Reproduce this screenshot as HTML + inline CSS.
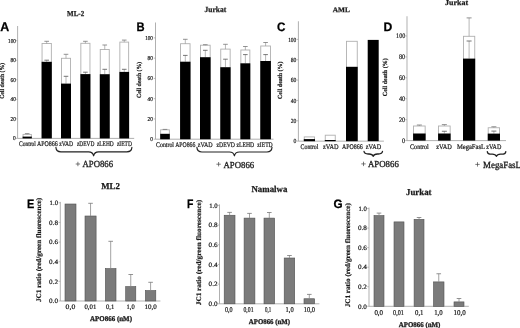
<!DOCTYPE html>
<html><head><meta charset="utf-8"><style>
html,body{margin:0;padding:0;background:#fff;width:520px;height:328px;overflow:hidden}
svg{display:block;will-change:transform;text-rendering:geometricPrecision}
</style></head><body>
<svg width="520" height="328" viewBox="0 0 520 328">
<rect width="520" height="328" fill="#fff"/>
<line x1="17.60" y1="26.00" x2="17.60" y2="138.40" stroke="#a2a2a2" stroke-width="0.85"/>
<line x1="15.80" y1="138.40" x2="17.60" y2="138.40" stroke="#a2a2a2" stroke-width="0.7"/>
<text x="13.10" y="140.40" font-family='"Liberation Serif", serif' font-size="5.9" font-weight="normal" fill="#1a1a1a" textLength="2.70" lengthAdjust="spacingAndGlyphs" stroke="#1a1a1a" stroke-width="0.2">0</text>
<line x1="15.80" y1="118.86" x2="17.60" y2="118.86" stroke="#a2a2a2" stroke-width="0.7"/>
<text x="10.50" y="120.86" font-family='"Liberation Serif", serif' font-size="5.9" font-weight="normal" fill="#1a1a1a" textLength="5.30" lengthAdjust="spacingAndGlyphs" stroke="#1a1a1a" stroke-width="0.2">20</text>
<line x1="15.80" y1="99.32" x2="17.60" y2="99.32" stroke="#a2a2a2" stroke-width="0.7"/>
<text x="10.50" y="101.32" font-family='"Liberation Serif", serif' font-size="5.9" font-weight="normal" fill="#1a1a1a" textLength="5.30" lengthAdjust="spacingAndGlyphs" stroke="#1a1a1a" stroke-width="0.2">40</text>
<line x1="15.80" y1="79.78" x2="17.60" y2="79.78" stroke="#a2a2a2" stroke-width="0.7"/>
<text x="10.50" y="81.78" font-family='"Liberation Serif", serif' font-size="5.9" font-weight="normal" fill="#1a1a1a" textLength="5.30" lengthAdjust="spacingAndGlyphs" stroke="#1a1a1a" stroke-width="0.2">60</text>
<line x1="15.80" y1="60.24" x2="17.60" y2="60.24" stroke="#a2a2a2" stroke-width="0.7"/>
<text x="10.50" y="62.24" font-family='"Liberation Serif", serif' font-size="5.9" font-weight="normal" fill="#1a1a1a" textLength="5.30" lengthAdjust="spacingAndGlyphs" stroke="#1a1a1a" stroke-width="0.2">80</text>
<line x1="15.80" y1="40.70" x2="17.60" y2="40.70" stroke="#a2a2a2" stroke-width="0.7"/>
<text x="8.10" y="42.70" font-family='"Liberation Serif", serif' font-size="5.9" font-weight="normal" fill="#1a1a1a" textLength="7.70" lengthAdjust="spacingAndGlyphs" stroke="#1a1a1a" stroke-width="0.2">100</text>
<line x1="17.60" y1="138.40" x2="134.20" y2="138.40" stroke="#a2a2a2" stroke-width="0.85"/>
<rect x="23.05" y="134.40" width="8.30" height="4.00" fill="#fff" stroke="#b0b0b0" stroke-width="0.9"/>
<line x1="27.20" y1="134.40" x2="27.20" y2="133.60" stroke="#9a9a9a" stroke-width="0.7"/>
<line x1="24.90" y1="133.60" x2="29.50" y2="133.60" stroke="#777" stroke-width="0.8"/>
<rect x="22.60" y="136.60" width="9.20" height="1.80" fill="#000" stroke="none" stroke-width="1"/>
<rect x="42.05" y="43.50" width="9.30" height="94.90" fill="#fff" stroke="#b0b0b0" stroke-width="0.9"/>
<line x1="46.70" y1="43.50" x2="46.70" y2="41.30" stroke="#9a9a9a" stroke-width="0.7"/>
<line x1="44.40" y1="41.30" x2="49.00" y2="41.30" stroke="#777" stroke-width="0.8"/>
<line x1="46.70" y1="61.80" x2="46.70" y2="60.20" stroke="#9a9a9a" stroke-width="0.7"/>
<line x1="44.40" y1="60.20" x2="49.00" y2="60.20" stroke="#555" stroke-width="0.8"/>
<rect x="41.60" y="61.80" width="10.20" height="76.60" fill="#000" stroke="none" stroke-width="1"/>
<rect x="61.45" y="58.30" width="9.10" height="80.10" fill="#fff" stroke="#b0b0b0" stroke-width="0.9"/>
<line x1="66.00" y1="58.30" x2="66.00" y2="54.30" stroke="#9a9a9a" stroke-width="0.7"/>
<line x1="63.70" y1="54.30" x2="68.30" y2="54.30" stroke="#777" stroke-width="0.8"/>
<line x1="66.00" y1="83.60" x2="66.00" y2="76.30" stroke="#9a9a9a" stroke-width="0.7"/>
<line x1="63.70" y1="76.30" x2="68.30" y2="76.30" stroke="#555" stroke-width="0.8"/>
<rect x="61.00" y="83.60" width="10.00" height="54.80" fill="#000" stroke="none" stroke-width="1"/>
<rect x="80.85" y="43.30" width="9.10" height="95.10" fill="#fff" stroke="#b0b0b0" stroke-width="0.9"/>
<line x1="85.40" y1="43.30" x2="85.40" y2="41.30" stroke="#9a9a9a" stroke-width="0.7"/>
<line x1="83.10" y1="41.30" x2="87.70" y2="41.30" stroke="#777" stroke-width="0.8"/>
<line x1="85.40" y1="74.10" x2="85.40" y2="72.20" stroke="#9a9a9a" stroke-width="0.7"/>
<line x1="83.10" y1="72.20" x2="87.70" y2="72.20" stroke="#555" stroke-width="0.8"/>
<rect x="80.40" y="74.10" width="10.00" height="64.30" fill="#000" stroke="none" stroke-width="1"/>
<rect x="100.25" y="49.50" width="9.00" height="88.90" fill="#fff" stroke="#b0b0b0" stroke-width="0.9"/>
<line x1="104.75" y1="49.50" x2="104.75" y2="45.00" stroke="#9a9a9a" stroke-width="0.7"/>
<line x1="102.45" y1="45.00" x2="107.05" y2="45.00" stroke="#777" stroke-width="0.8"/>
<line x1="104.75" y1="74.20" x2="104.75" y2="69.30" stroke="#9a9a9a" stroke-width="0.7"/>
<line x1="102.45" y1="69.30" x2="107.05" y2="69.30" stroke="#555" stroke-width="0.8"/>
<rect x="99.80" y="74.20" width="9.90" height="64.20" fill="#000" stroke="none" stroke-width="1"/>
<rect x="119.85" y="42.10" width="8.80" height="96.30" fill="#fff" stroke="#b0b0b0" stroke-width="0.9"/>
<line x1="124.25" y1="42.10" x2="124.25" y2="40.10" stroke="#9a9a9a" stroke-width="0.7"/>
<line x1="121.95" y1="40.10" x2="126.55" y2="40.10" stroke="#777" stroke-width="0.8"/>
<line x1="124.25" y1="71.90" x2="124.25" y2="69.30" stroke="#9a9a9a" stroke-width="0.7"/>
<line x1="121.95" y1="69.30" x2="126.55" y2="69.30" stroke="#555" stroke-width="0.8"/>
<rect x="119.40" y="71.90" width="9.70" height="66.50" fill="#000" stroke="none" stroke-width="1"/>
<text x="67.10" y="15.80" font-family='"Liberation Serif", serif' font-size="7.6" font-weight="bold" fill="#1a1a1a" textLength="17.10" lengthAdjust="spacingAndGlyphs" stroke="#1a1a1a" stroke-width="0.25">ML-2</text>
<text x="0.30" y="31.40" font-family='"Liberation Sans", sans-serif' font-size="12.6" font-weight="bold" fill="#000" textLength="9.00" lengthAdjust="spacingAndGlyphs" stroke="#000" stroke-width="0.25">A</text>
<text transform="translate(4.30,98.80) rotate(-90)" x="0" y="0" font-family='"Liberation Serif", serif' font-size="6.3" font-weight="bold" fill="#1a1a1a" textLength="35.90" lengthAdjust="spacingAndGlyphs" stroke="#1a1a1a" stroke-width="0.2">Cell death (%)</text>
<text x="19.00" y="145.50" font-family='"Liberation Serif", serif' font-size="7.0" font-weight="normal" fill="#1a1a1a" textLength="16.80" lengthAdjust="spacingAndGlyphs" stroke="#1a1a1a" stroke-width="0.22">Control</text>
<text x="36.90" y="145.50" font-family='"Liberation Serif", serif' font-size="7.0" font-weight="normal" fill="#1a1a1a" textLength="20.80" lengthAdjust="spacingAndGlyphs" stroke="#1a1a1a" stroke-width="0.22">APO866</text>
<text x="59.20" y="145.50" font-family='"Liberation Serif", serif' font-size="7.0" font-weight="normal" fill="#1a1a1a" textLength="14.00" lengthAdjust="spacingAndGlyphs" stroke="#1a1a1a" stroke-width="0.22">zVAD</text>
<text x="76.90" y="145.50" font-family='"Liberation Serif", serif' font-size="7.0" font-weight="normal" fill="#1a1a1a" textLength="17.50" lengthAdjust="spacingAndGlyphs" stroke="#1a1a1a" stroke-width="0.22">zDEVD</text>
<text x="96.90" y="145.50" font-family='"Liberation Serif", serif' font-size="7.0" font-weight="normal" fill="#1a1a1a" textLength="16.85" lengthAdjust="spacingAndGlyphs" stroke="#1a1a1a" stroke-width="0.22">zLEHD</text>
<text x="116.90" y="145.50" font-family='"Liberation Serif", serif' font-size="7.0" font-weight="normal" fill="#1a1a1a" textLength="15.00" lengthAdjust="spacingAndGlyphs" stroke="#1a1a1a" stroke-width="0.22">zIETD</text>
<path d="M55.90 147.40 Q56.20 151.80 60.90 151.80 L88.60 151.80 Q92.80 151.80 93.60 155.80 Q94.40 151.80 98.60 151.80 L126.90 151.80 Q131.60 151.80 131.90 147.40" stroke="#222" stroke-width="1.15" fill="none" stroke-linecap="round" stroke-linejoin="round"/>
<line x1="75.70" y1="164.00" x2="80.10" y2="164.00" stroke="#444" stroke-width="0.7"/>
<line x1="77.90" y1="161.80" x2="77.90" y2="166.20" stroke="#444" stroke-width="0.7"/>
<text x="82.50" y="167.30" font-family='"Liberation Serif", serif' font-size="9.4" font-weight="normal" fill="#1a1a1a" textLength="30.60" lengthAdjust="spacingAndGlyphs" stroke="#1a1a1a" stroke-width="0.3">APO866</text>
<line x1="155.50" y1="22.50" x2="155.50" y2="139.20" stroke="#a2a2a2" stroke-width="0.85"/>
<line x1="153.70" y1="139.20" x2="155.50" y2="139.20" stroke="#a2a2a2" stroke-width="0.7"/>
<text x="150.20" y="141.20" font-family='"Liberation Serif", serif' font-size="5.9" font-weight="normal" fill="#1a1a1a" textLength="2.70" lengthAdjust="spacingAndGlyphs" stroke="#1a1a1a" stroke-width="0.2">0</text>
<line x1="153.70" y1="118.94" x2="155.50" y2="118.94" stroke="#a2a2a2" stroke-width="0.7"/>
<text x="147.60" y="120.94" font-family='"Liberation Serif", serif' font-size="5.9" font-weight="normal" fill="#1a1a1a" textLength="5.30" lengthAdjust="spacingAndGlyphs" stroke="#1a1a1a" stroke-width="0.2">20</text>
<line x1="153.70" y1="98.68" x2="155.50" y2="98.68" stroke="#a2a2a2" stroke-width="0.7"/>
<text x="147.60" y="100.68" font-family='"Liberation Serif", serif' font-size="5.9" font-weight="normal" fill="#1a1a1a" textLength="5.30" lengthAdjust="spacingAndGlyphs" stroke="#1a1a1a" stroke-width="0.2">40</text>
<line x1="153.70" y1="78.42" x2="155.50" y2="78.42" stroke="#a2a2a2" stroke-width="0.7"/>
<text x="147.60" y="80.42" font-family='"Liberation Serif", serif' font-size="5.9" font-weight="normal" fill="#1a1a1a" textLength="5.30" lengthAdjust="spacingAndGlyphs" stroke="#1a1a1a" stroke-width="0.2">60</text>
<line x1="153.70" y1="58.16" x2="155.50" y2="58.16" stroke="#a2a2a2" stroke-width="0.7"/>
<text x="147.60" y="60.16" font-family='"Liberation Serif", serif' font-size="5.9" font-weight="normal" fill="#1a1a1a" textLength="5.30" lengthAdjust="spacingAndGlyphs" stroke="#1a1a1a" stroke-width="0.2">80</text>
<line x1="153.70" y1="37.90" x2="155.50" y2="37.90" stroke="#a2a2a2" stroke-width="0.7"/>
<text x="145.20" y="39.90" font-family='"Liberation Serif", serif' font-size="5.9" font-weight="normal" fill="#1a1a1a" textLength="7.70" lengthAdjust="spacingAndGlyphs" stroke="#1a1a1a" stroke-width="0.2">100</text>
<line x1="155.50" y1="139.20" x2="273.50" y2="139.20" stroke="#a2a2a2" stroke-width="0.85"/>
<rect x="160.65" y="129.80" width="8.70" height="9.40" fill="#fff" stroke="#b0b0b0" stroke-width="0.9"/>
<line x1="165.00" y1="129.80" x2="165.00" y2="129.40" stroke="#9a9a9a" stroke-width="0.7"/>
<line x1="162.70" y1="129.40" x2="167.30" y2="129.40" stroke="#777" stroke-width="0.8"/>
<rect x="160.20" y="133.80" width="9.60" height="5.40" fill="#000" stroke="none" stroke-width="1"/>
<rect x="180.55" y="43.70" width="9.50" height="95.50" fill="#fff" stroke="#b0b0b0" stroke-width="0.9"/>
<line x1="185.30" y1="43.70" x2="185.30" y2="39.30" stroke="#9a9a9a" stroke-width="0.7"/>
<line x1="183.00" y1="39.30" x2="187.60" y2="39.30" stroke="#777" stroke-width="0.8"/>
<line x1="185.30" y1="61.70" x2="185.30" y2="55.40" stroke="#9a9a9a" stroke-width="0.7"/>
<line x1="183.00" y1="55.40" x2="187.60" y2="55.40" stroke="#555" stroke-width="0.8"/>
<rect x="180.10" y="61.70" width="10.40" height="77.50" fill="#000" stroke="none" stroke-width="1"/>
<rect x="200.45" y="45.20" width="9.70" height="94.00" fill="#fff" stroke="#b0b0b0" stroke-width="0.9"/>
<line x1="205.30" y1="45.20" x2="205.30" y2="44.70" stroke="#9a9a9a" stroke-width="0.7"/>
<line x1="203.00" y1="44.70" x2="207.60" y2="44.70" stroke="#777" stroke-width="0.8"/>
<line x1="205.30" y1="57.20" x2="205.30" y2="50.30" stroke="#9a9a9a" stroke-width="0.7"/>
<line x1="203.00" y1="50.30" x2="207.60" y2="50.30" stroke="#555" stroke-width="0.8"/>
<rect x="200.00" y="57.20" width="10.60" height="82.00" fill="#000" stroke="none" stroke-width="1"/>
<rect x="220.75" y="49.10" width="9.40" height="90.10" fill="#fff" stroke="#b0b0b0" stroke-width="0.9"/>
<line x1="225.45" y1="49.10" x2="225.45" y2="44.30" stroke="#9a9a9a" stroke-width="0.7"/>
<line x1="223.15" y1="44.30" x2="227.75" y2="44.30" stroke="#777" stroke-width="0.8"/>
<line x1="225.45" y1="67.20" x2="225.45" y2="59.20" stroke="#9a9a9a" stroke-width="0.7"/>
<line x1="223.15" y1="59.20" x2="227.75" y2="59.20" stroke="#555" stroke-width="0.8"/>
<rect x="220.30" y="67.20" width="10.30" height="72.00" fill="#000" stroke="none" stroke-width="1"/>
<rect x="240.85" y="50.00" width="9.00" height="89.20" fill="#fff" stroke="#b0b0b0" stroke-width="0.9"/>
<line x1="245.35" y1="50.00" x2="245.35" y2="46.50" stroke="#9a9a9a" stroke-width="0.7"/>
<line x1="243.05" y1="46.50" x2="247.65" y2="46.50" stroke="#777" stroke-width="0.8"/>
<line x1="245.35" y1="63.30" x2="245.35" y2="54.60" stroke="#9a9a9a" stroke-width="0.7"/>
<line x1="243.05" y1="54.60" x2="247.65" y2="54.60" stroke="#555" stroke-width="0.8"/>
<rect x="240.40" y="63.30" width="9.90" height="75.90" fill="#000" stroke="none" stroke-width="1"/>
<rect x="260.75" y="46.00" width="9.70" height="93.20" fill="#fff" stroke="#b0b0b0" stroke-width="0.9"/>
<line x1="265.60" y1="46.00" x2="265.60" y2="42.50" stroke="#9a9a9a" stroke-width="0.7"/>
<line x1="263.30" y1="42.50" x2="267.90" y2="42.50" stroke="#777" stroke-width="0.8"/>
<line x1="265.60" y1="61.00" x2="265.60" y2="54.60" stroke="#9a9a9a" stroke-width="0.7"/>
<line x1="263.30" y1="54.60" x2="267.90" y2="54.60" stroke="#555" stroke-width="0.8"/>
<rect x="260.30" y="61.00" width="10.60" height="78.20" fill="#000" stroke="none" stroke-width="1"/>
<text x="204.60" y="12.00" font-family='"Liberation Serif", serif' font-size="7.8" font-weight="bold" fill="#1a1a1a" textLength="21.70" lengthAdjust="spacingAndGlyphs" stroke="#1a1a1a" stroke-width="0.25">Jurkat</text>
<text x="136.40" y="31.20" font-family='"Liberation Sans", sans-serif' font-size="12.3" font-weight="bold" fill="#000" textLength="8.10" lengthAdjust="spacingAndGlyphs" stroke="#000" stroke-width="0.25">B</text>
<text transform="translate(140.90,97.90) rotate(-90)" x="0" y="0" font-family='"Liberation Serif", serif' font-size="6.3" font-weight="bold" fill="#1a1a1a" textLength="36.10" lengthAdjust="spacingAndGlyphs" stroke="#1a1a1a" stroke-width="0.2">Cell death (%)</text>
<text x="156.10" y="146.90" font-family='"Liberation Serif", serif' font-size="7.0" font-weight="normal" fill="#1a1a1a" textLength="17.90" lengthAdjust="spacingAndGlyphs" stroke="#1a1a1a" stroke-width="0.22">Control</text>
<text x="175.20" y="146.90" font-family='"Liberation Serif", serif' font-size="7.0" font-weight="normal" fill="#1a1a1a" textLength="20.20" lengthAdjust="spacingAndGlyphs" stroke="#1a1a1a" stroke-width="0.22">APO866</text>
<text x="197.80" y="146.90" font-family='"Liberation Serif", serif' font-size="7.0" font-weight="normal" fill="#1a1a1a" textLength="14.90" lengthAdjust="spacingAndGlyphs" stroke="#1a1a1a" stroke-width="0.22">zVAD</text>
<text x="216.50" y="146.90" font-family='"Liberation Serif", serif' font-size="7.0" font-weight="normal" fill="#1a1a1a" textLength="18.50" lengthAdjust="spacingAndGlyphs" stroke="#1a1a1a" stroke-width="0.22">zDEVD</text>
<text x="236.50" y="146.90" font-family='"Liberation Serif", serif' font-size="7.0" font-weight="normal" fill="#1a1a1a" textLength="17.70" lengthAdjust="spacingAndGlyphs" stroke="#1a1a1a" stroke-width="0.22">zLEHD</text>
<text x="257.30" y="146.90" font-family='"Liberation Serif", serif' font-size="7.0" font-weight="normal" fill="#1a1a1a" textLength="15.40" lengthAdjust="spacingAndGlyphs" stroke="#1a1a1a" stroke-width="0.22">zIETD</text>
<path d="M196.90 147.40 Q197.20 152.00 201.90 152.00 L229.40 152.00 Q233.60 152.00 234.40 155.80 Q235.20 152.00 239.40 152.00 L267.00 152.00 Q271.70 152.00 272.00 147.40" stroke="#222" stroke-width="1.15" fill="none" stroke-linecap="round" stroke-linejoin="round"/>
<line x1="216.40" y1="164.20" x2="220.80" y2="164.20" stroke="#444" stroke-width="0.7"/>
<line x1="218.60" y1="162.00" x2="218.60" y2="166.40" stroke="#444" stroke-width="0.7"/>
<text x="223.50" y="167.50" font-family='"Liberation Serif", serif' font-size="9.2" font-weight="normal" fill="#1a1a1a" textLength="30.70" lengthAdjust="spacingAndGlyphs" stroke="#1a1a1a" stroke-width="0.3">APO866</text>
<line x1="298.40" y1="21.25" x2="298.40" y2="141.15" stroke="#a2a2a2" stroke-width="0.85"/>
<line x1="296.60" y1="141.15" x2="298.40" y2="141.15" stroke="#a2a2a2" stroke-width="0.7"/>
<text x="293.44" y="143.27" font-family='"Liberation Serif", serif' font-size="6.2540000000000004" font-weight="normal" fill="#1a1a1a" textLength="2.86" lengthAdjust="spacingAndGlyphs" stroke="#1a1a1a" stroke-width="0.2">0</text>
<line x1="296.60" y1="120.80" x2="298.40" y2="120.80" stroke="#a2a2a2" stroke-width="0.7"/>
<text x="290.68" y="122.92" font-family='"Liberation Serif", serif' font-size="6.2540000000000004" font-weight="normal" fill="#1a1a1a" textLength="5.62" lengthAdjust="spacingAndGlyphs" stroke="#1a1a1a" stroke-width="0.2">20</text>
<line x1="296.60" y1="100.45" x2="298.40" y2="100.45" stroke="#a2a2a2" stroke-width="0.7"/>
<text x="290.68" y="102.57" font-family='"Liberation Serif", serif' font-size="6.2540000000000004" font-weight="normal" fill="#1a1a1a" textLength="5.62" lengthAdjust="spacingAndGlyphs" stroke="#1a1a1a" stroke-width="0.2">40</text>
<line x1="296.60" y1="80.10" x2="298.40" y2="80.10" stroke="#a2a2a2" stroke-width="0.7"/>
<text x="290.68" y="82.22" font-family='"Liberation Serif", serif' font-size="6.2540000000000004" font-weight="normal" fill="#1a1a1a" textLength="5.62" lengthAdjust="spacingAndGlyphs" stroke="#1a1a1a" stroke-width="0.2">60</text>
<line x1="296.60" y1="59.75" x2="298.40" y2="59.75" stroke="#a2a2a2" stroke-width="0.7"/>
<text x="290.68" y="61.87" font-family='"Liberation Serif", serif' font-size="6.2540000000000004" font-weight="normal" fill="#1a1a1a" textLength="5.62" lengthAdjust="spacingAndGlyphs" stroke="#1a1a1a" stroke-width="0.2">80</text>
<line x1="296.60" y1="39.40" x2="298.40" y2="39.40" stroke="#a2a2a2" stroke-width="0.7"/>
<text x="288.14" y="41.52" font-family='"Liberation Serif", serif' font-size="6.2540000000000004" font-weight="normal" fill="#1a1a1a" textLength="8.16" lengthAdjust="spacingAndGlyphs" stroke="#1a1a1a" stroke-width="0.2">100</text>
<line x1="298.40" y1="141.15" x2="383.90" y2="141.15" stroke="#a2a2a2" stroke-width="0.85"/>
<rect x="304.25" y="136.90" width="10.30" height="4.25" fill="#fff" stroke="#b0b0b0" stroke-width="0.9"/>
<rect x="303.80" y="139.10" width="11.20" height="2.05" fill="#000" stroke="none" stroke-width="1"/>
<rect x="325.25" y="135.20" width="10.00" height="5.95" fill="#fff" stroke="#b0b0b0" stroke-width="0.9"/>
<rect x="324.80" y="140.00" width="10.90" height="1.15" fill="#000" stroke="none" stroke-width="1"/>
<rect x="346.45" y="41.30" width="10.80" height="99.85" fill="#fff" stroke="#b0b0b0" stroke-width="0.9"/>
<rect x="346.00" y="66.80" width="11.70" height="74.35" fill="#000" stroke="none" stroke-width="1"/>
<rect x="367.70" y="39.90" width="11.00" height="101.25" fill="#000" stroke="none" stroke-width="1"/>
<text x="332.80" y="11.90" font-family='"Liberation Serif", serif' font-size="7.0" font-weight="bold" fill="#1a1a1a" textLength="17.10" lengthAdjust="spacingAndGlyphs" stroke="#1a1a1a" stroke-width="0.25">AML</text>
<text x="276.90" y="31.00" font-family='"Liberation Sans", sans-serif' font-size="12.3" font-weight="bold" fill="#000" textLength="8.50" lengthAdjust="spacingAndGlyphs" stroke="#000" stroke-width="0.25">C</text>
<text transform="translate(281.80,99.00) rotate(-90)" x="0" y="0" font-family='"Liberation Serif", serif' font-size="6.3" font-weight="bold" fill="#1a1a1a" textLength="37.60" lengthAdjust="spacingAndGlyphs" stroke="#1a1a1a" stroke-width="0.2">Cell death (%)</text>
<text x="300.60" y="149.00" font-family='"Liberation Serif", serif' font-size="7.0" font-weight="normal" fill="#1a1a1a" textLength="17.80" lengthAdjust="spacingAndGlyphs" stroke="#1a1a1a" stroke-width="0.22">Control</text>
<text x="323.00" y="149.00" font-family='"Liberation Serif", serif' font-size="7.0" font-weight="normal" fill="#1a1a1a" textLength="15.60" lengthAdjust="spacingAndGlyphs" stroke="#1a1a1a" stroke-width="0.22">zVAD</text>
<text x="341.90" y="149.00" font-family='"Liberation Serif", serif' font-size="7.0" font-weight="normal" fill="#1a1a1a" textLength="20.80" lengthAdjust="spacingAndGlyphs" stroke="#1a1a1a" stroke-width="0.22">APO866</text>
<text x="365.80" y="149.00" font-family='"Liberation Serif", serif' font-size="7.0" font-weight="normal" fill="#1a1a1a" textLength="15.40" lengthAdjust="spacingAndGlyphs" stroke="#1a1a1a" stroke-width="0.22">zVAD</text>
<path d="M364.00 151.30 Q364.30 154.00 368.18 154.00 L369.02 154.00 Q372.40 154.00 373.20 156.40 Q374.00 154.00 377.38 154.00 L378.32 154.00 Q382.20 154.00 382.50 151.30" stroke="#222" stroke-width="1.3" fill="none" stroke-linecap="round" stroke-linejoin="round"/>
<line x1="361.30" y1="163.90" x2="365.70" y2="163.90" stroke="#444" stroke-width="0.7"/>
<line x1="363.50" y1="161.70" x2="363.50" y2="166.10" stroke="#444" stroke-width="0.7"/>
<text x="368.00" y="166.80" font-family='"Liberation Serif", serif' font-size="9.2" font-weight="normal" fill="#1a1a1a" textLength="30.80" lengthAdjust="spacingAndGlyphs" stroke="#1a1a1a" stroke-width="0.3">APO866</text>
<line x1="407.00" y1="16.25" x2="407.00" y2="140.60" stroke="#a2a2a2" stroke-width="0.85"/>
<line x1="405.20" y1="140.60" x2="407.00" y2="140.60" stroke="#a2a2a2" stroke-width="0.7"/>
<text x="402.01" y="142.96" font-family='"Liberation Serif", serif' font-size="6.962" font-weight="normal" fill="#1a1a1a" textLength="3.19" lengthAdjust="spacingAndGlyphs" stroke="#1a1a1a" stroke-width="0.2">0</text>
<line x1="405.20" y1="119.68" x2="407.00" y2="119.68" stroke="#a2a2a2" stroke-width="0.7"/>
<text x="398.95" y="122.04" font-family='"Liberation Serif", serif' font-size="6.962" font-weight="normal" fill="#1a1a1a" textLength="6.25" lengthAdjust="spacingAndGlyphs" stroke="#1a1a1a" stroke-width="0.2">20</text>
<line x1="405.20" y1="98.76" x2="407.00" y2="98.76" stroke="#a2a2a2" stroke-width="0.7"/>
<text x="398.95" y="101.12" font-family='"Liberation Serif", serif' font-size="6.962" font-weight="normal" fill="#1a1a1a" textLength="6.25" lengthAdjust="spacingAndGlyphs" stroke="#1a1a1a" stroke-width="0.2">40</text>
<line x1="405.20" y1="77.84" x2="407.00" y2="77.84" stroke="#a2a2a2" stroke-width="0.7"/>
<text x="398.95" y="80.20" font-family='"Liberation Serif", serif' font-size="6.962" font-weight="normal" fill="#1a1a1a" textLength="6.25" lengthAdjust="spacingAndGlyphs" stroke="#1a1a1a" stroke-width="0.2">60</text>
<line x1="405.20" y1="56.92" x2="407.00" y2="56.92" stroke="#a2a2a2" stroke-width="0.7"/>
<text x="398.95" y="59.28" font-family='"Liberation Serif", serif' font-size="6.962" font-weight="normal" fill="#1a1a1a" textLength="6.25" lengthAdjust="spacingAndGlyphs" stroke="#1a1a1a" stroke-width="0.2">80</text>
<line x1="405.20" y1="36.00" x2="407.00" y2="36.00" stroke="#a2a2a2" stroke-width="0.7"/>
<text x="396.11" y="38.36" font-family='"Liberation Serif", serif' font-size="6.962" font-weight="normal" fill="#1a1a1a" textLength="9.09" lengthAdjust="spacingAndGlyphs" stroke="#1a1a1a" stroke-width="0.2">100</text>
<line x1="407.00" y1="140.60" x2="506.00" y2="140.60" stroke="#a2a2a2" stroke-width="0.85"/>
<rect x="413.55" y="126.00" width="11.60" height="14.60" fill="#fff" stroke="#b0b0b0" stroke-width="0.9"/>
<line x1="419.35" y1="126.00" x2="419.35" y2="125.00" stroke="#9a9a9a" stroke-width="0.7"/>
<line x1="416.85" y1="125.00" x2="421.85" y2="125.00" stroke="#777" stroke-width="0.8"/>
<rect x="413.10" y="133.50" width="12.50" height="7.10" fill="#000" stroke="none" stroke-width="1"/>
<rect x="438.55" y="126.00" width="11.60" height="14.60" fill="#fff" stroke="#b0b0b0" stroke-width="0.9"/>
<line x1="444.35" y1="126.00" x2="444.35" y2="124.60" stroke="#9a9a9a" stroke-width="0.7"/>
<line x1="441.85" y1="124.60" x2="446.85" y2="124.60" stroke="#777" stroke-width="0.8"/>
<line x1="444.35" y1="133.50" x2="444.35" y2="131.25" stroke="#9a9a9a" stroke-width="0.7"/>
<line x1="441.85" y1="131.25" x2="446.85" y2="131.25" stroke="#555" stroke-width="0.8"/>
<rect x="438.10" y="133.50" width="12.50" height="7.10" fill="#000" stroke="none" stroke-width="1"/>
<rect x="463.45" y="36.30" width="11.30" height="104.30" fill="#fff" stroke="#b0b0b0" stroke-width="0.9"/>
<line x1="469.10" y1="36.30" x2="469.10" y2="17.90" stroke="#9a9a9a" stroke-width="0.7"/>
<line x1="466.60" y1="17.90" x2="471.60" y2="17.90" stroke="#777" stroke-width="0.8"/>
<line x1="469.10" y1="58.60" x2="469.10" y2="41.00" stroke="#9a9a9a" stroke-width="0.7"/>
<line x1="466.60" y1="41.00" x2="471.60" y2="41.00" stroke="#555" stroke-width="0.8"/>
<rect x="463.00" y="58.60" width="12.20" height="82.00" fill="#000" stroke="none" stroke-width="1"/>
<rect x="488.20" y="127.75" width="11.35" height="12.85" fill="#fff" stroke="#b0b0b0" stroke-width="0.9"/>
<line x1="493.88" y1="127.75" x2="493.88" y2="126.75" stroke="#9a9a9a" stroke-width="0.7"/>
<line x1="491.38" y1="126.75" x2="496.38" y2="126.75" stroke="#777" stroke-width="0.8"/>
<line x1="493.88" y1="133.60" x2="493.88" y2="131.10" stroke="#9a9a9a" stroke-width="0.7"/>
<line x1="491.38" y1="131.10" x2="496.38" y2="131.10" stroke="#555" stroke-width="0.8"/>
<rect x="487.75" y="133.60" width="12.25" height="7.00" fill="#000" stroke="none" stroke-width="1"/>
<text x="445.00" y="5.30" font-family='"Liberation Serif", serif' font-size="7.6" font-weight="bold" fill="#1a1a1a" textLength="23.10" lengthAdjust="spacingAndGlyphs" stroke="#1a1a1a" stroke-width="0.25">Jurkat</text>
<text x="383.50" y="31.20" font-family='"Liberation Sans", sans-serif' font-size="12.3" font-weight="bold" fill="#000" textLength="8.80" lengthAdjust="spacingAndGlyphs" stroke="#000" stroke-width="0.25">D</text>
<text transform="translate(387.10,96.20) rotate(-90)" x="0" y="0" font-family='"Liberation Serif", serif' font-size="6.3" font-weight="bold" fill="#1a1a1a" textLength="38.00" lengthAdjust="spacingAndGlyphs" stroke="#1a1a1a" stroke-width="0.2">Cell death (%)</text>
<text x="410.00" y="148.60" font-family='"Liberation Serif", serif' font-size="7.0" font-weight="normal" fill="#1a1a1a" textLength="18.75" lengthAdjust="spacingAndGlyphs" stroke="#1a1a1a" stroke-width="0.22">Control</text>
<text x="436.25" y="148.60" font-family='"Liberation Serif", serif' font-size="7.0" font-weight="normal" fill="#1a1a1a" textLength="15.65" lengthAdjust="spacingAndGlyphs" stroke="#1a1a1a" stroke-width="0.22">zVAD</text>
<text x="456.90" y="148.60" font-family='"Liberation Serif", serif' font-size="7.0" font-weight="normal" fill="#1a1a1a" textLength="28.10" lengthAdjust="spacingAndGlyphs" stroke="#1a1a1a" stroke-width="0.22">MegaFasL</text>
<text x="486.25" y="148.60" font-family='"Liberation Serif", serif' font-size="7.0" font-weight="normal" fill="#1a1a1a" textLength="15.00" lengthAdjust="spacingAndGlyphs" stroke="#1a1a1a" stroke-width="0.22">zVAD</text>
<path d="M487.30 151.60 Q487.60 154.20 491.44 154.20 L492.26 154.20 Q495.60 154.20 496.40 156.40 Q497.20 154.20 500.54 154.20 L501.66 154.20 Q505.50 154.20 505.80 151.60" stroke="#222" stroke-width="1.3" fill="none" stroke-linecap="round" stroke-linejoin="round"/>
<line x1="475.30" y1="164.40" x2="479.70" y2="164.40" stroke="#444" stroke-width="0.7"/>
<line x1="477.50" y1="162.20" x2="477.50" y2="166.60" stroke="#444" stroke-width="0.7"/>
<text x="483.10" y="167.50" font-family='"Liberation Serif", serif' font-size="9.4" font-weight="normal" fill="#1a1a1a" textLength="37.90" lengthAdjust="spacingAndGlyphs" stroke="#1a1a1a" stroke-width="0.3">MegaFasL</text>
<line x1="60.30" y1="201.90" x2="60.30" y2="301.00" stroke="#a2a2a2" stroke-width="0.85"/>
<line x1="58.50" y1="301.00" x2="60.30" y2="301.00" stroke="#a2a2a2" stroke-width="0.7"/>
<text x="49.00" y="303.20" font-family='"Liberation Serif", serif' font-size="6.6" font-weight="normal" fill="#1a1a1a" textLength="9.00" lengthAdjust="spacingAndGlyphs" stroke="#1a1a1a" stroke-width="0.2">0.0</text>
<line x1="58.50" y1="281.36" x2="60.30" y2="281.36" stroke="#a2a2a2" stroke-width="0.7"/>
<text x="49.00" y="283.56" font-family='"Liberation Serif", serif' font-size="6.6" font-weight="normal" fill="#1a1a1a" textLength="9.00" lengthAdjust="spacingAndGlyphs" stroke="#1a1a1a" stroke-width="0.2">0.2</text>
<line x1="58.50" y1="261.72" x2="60.30" y2="261.72" stroke="#a2a2a2" stroke-width="0.7"/>
<text x="49.00" y="263.92" font-family='"Liberation Serif", serif' font-size="6.6" font-weight="normal" fill="#1a1a1a" textLength="9.00" lengthAdjust="spacingAndGlyphs" stroke="#1a1a1a" stroke-width="0.2">0.4</text>
<line x1="58.50" y1="242.08" x2="60.30" y2="242.08" stroke="#a2a2a2" stroke-width="0.7"/>
<text x="49.00" y="244.28" font-family='"Liberation Serif", serif' font-size="6.6" font-weight="normal" fill="#1a1a1a" textLength="9.00" lengthAdjust="spacingAndGlyphs" stroke="#1a1a1a" stroke-width="0.2">0.6</text>
<line x1="58.50" y1="222.44" x2="60.30" y2="222.44" stroke="#a2a2a2" stroke-width="0.7"/>
<text x="49.00" y="224.64" font-family='"Liberation Serif", serif' font-size="6.6" font-weight="normal" fill="#1a1a1a" textLength="9.00" lengthAdjust="spacingAndGlyphs" stroke="#1a1a1a" stroke-width="0.2">0.8</text>
<line x1="58.50" y1="202.80" x2="60.30" y2="202.80" stroke="#a2a2a2" stroke-width="0.7"/>
<text x="49.60" y="205.00" font-family='"Liberation Serif", serif' font-size="6.6" font-weight="normal" fill="#1a1a1a" textLength="8.40" lengthAdjust="spacingAndGlyphs" stroke="#1a1a1a" stroke-width="0.2">1.0</text>
<line x1="60.30" y1="301.00" x2="160.40" y2="301.00" stroke="#a2a2a2" stroke-width="0.85"/>
<rect x="65.00" y="204.00" width="11.00" height="97.00" fill="#7b7b7b" stroke="#505050" stroke-width="0.6"/>
<rect x="85.00" y="216.00" width="11.10" height="85.00" fill="#7b7b7b" stroke="#505050" stroke-width="0.6"/>
<line x1="90.55" y1="216.00" x2="90.55" y2="203.30" stroke="#8a8a8a" stroke-width="0.8"/>
<line x1="88.25" y1="203.30" x2="92.85" y2="203.30" stroke="#777" stroke-width="0.8"/>
<rect x="105.40" y="268.60" width="10.60" height="32.40" fill="#7b7b7b" stroke="#505050" stroke-width="0.6"/>
<line x1="110.70" y1="268.60" x2="110.70" y2="241.30" stroke="#8a8a8a" stroke-width="0.8"/>
<line x1="108.40" y1="241.30" x2="113.00" y2="241.30" stroke="#777" stroke-width="0.8"/>
<rect x="125.70" y="286.60" width="10.10" height="14.40" fill="#7b7b7b" stroke="#505050" stroke-width="0.6"/>
<line x1="130.75" y1="286.60" x2="130.75" y2="274.50" stroke="#8a8a8a" stroke-width="0.8"/>
<line x1="128.45" y1="274.50" x2="133.05" y2="274.50" stroke="#777" stroke-width="0.8"/>
<rect x="145.40" y="290.60" width="10.40" height="10.40" fill="#7b7b7b" stroke="#505050" stroke-width="0.6"/>
<line x1="150.60" y1="290.60" x2="150.60" y2="282.30" stroke="#8a8a8a" stroke-width="0.8"/>
<line x1="148.30" y1="282.30" x2="152.90" y2="282.30" stroke="#777" stroke-width="0.8"/>
<text x="65.60" y="309.20" font-family='"Liberation Serif", serif' font-size="6.8" font-weight="normal" fill="#1a1a1a" textLength="9.65" lengthAdjust="spacingAndGlyphs" stroke="#1a1a1a" stroke-width="0.22">0,0</text>
<text x="84.40" y="309.20" font-family='"Liberation Serif", serif' font-size="6.8" font-weight="normal" fill="#1a1a1a" textLength="11.90" lengthAdjust="spacingAndGlyphs" stroke="#1a1a1a" stroke-width="0.22">0,01</text>
<text x="106.00" y="309.20" font-family='"Liberation Serif", serif' font-size="6.8" font-weight="normal" fill="#1a1a1a" textLength="8.30" lengthAdjust="spacingAndGlyphs" stroke="#1a1a1a" stroke-width="0.22">0,1</text>
<text x="126.60" y="309.20" font-family='"Liberation Serif", serif' font-size="6.8" font-weight="normal" fill="#1a1a1a" textLength="8.10" lengthAdjust="spacingAndGlyphs" stroke="#1a1a1a" stroke-width="0.22">1,0</text>
<text x="144.50" y="309.20" font-family='"Liberation Serif", serif' font-size="6.8" font-weight="normal" fill="#1a1a1a" textLength="12.30" lengthAdjust="spacingAndGlyphs" stroke="#1a1a1a" stroke-width="0.22">10,0</text>
<text x="101.25" y="189.30" font-family='"Liberation Serif", serif' font-size="9" font-weight="bold" fill="#1a1a1a" textLength="18.60" lengthAdjust="spacingAndGlyphs" stroke="#1a1a1a" stroke-width="0.25">ML2</text>
<text x="26.90" y="207.50" font-family='"Liberation Sans", sans-serif' font-size="12.2" font-weight="bold" fill="#000" textLength="7.30" lengthAdjust="spacingAndGlyphs" stroke="#000" stroke-width="0.25">E</text>
<text transform="translate(41.30,302.00) rotate(-90)" x="0" y="0" font-family='"Liberation Serif", serif' font-size="7.0" font-weight="bold" fill="#1a1a1a" textLength="104.20" lengthAdjust="spacingAndGlyphs" stroke="#1a1a1a" stroke-width="0.2">JC1 ratio (red/green fluorescence)</text>
<text x="90.10" y="321.00" font-family='"Liberation Serif", serif' font-size="7.2" font-weight="bold" fill="#1a1a1a" textLength="41.90" lengthAdjust="spacingAndGlyphs" stroke="#1a1a1a" stroke-width="0.3">APO866 (nM)</text>
<line x1="219.50" y1="204.40" x2="219.50" y2="303.80" stroke="#a2a2a2" stroke-width="0.85"/>
<line x1="217.70" y1="303.80" x2="219.50" y2="303.80" stroke="#a2a2a2" stroke-width="0.7"/>
<text x="208.60" y="306.00" font-family='"Liberation Serif", serif' font-size="6.6" font-weight="normal" fill="#1a1a1a" textLength="9.00" lengthAdjust="spacingAndGlyphs" stroke="#1a1a1a" stroke-width="0.2">0.0</text>
<line x1="217.70" y1="284.12" x2="219.50" y2="284.12" stroke="#a2a2a2" stroke-width="0.7"/>
<text x="208.60" y="286.32" font-family='"Liberation Serif", serif' font-size="6.6" font-weight="normal" fill="#1a1a1a" textLength="9.00" lengthAdjust="spacingAndGlyphs" stroke="#1a1a1a" stroke-width="0.2">0.2</text>
<line x1="217.70" y1="264.44" x2="219.50" y2="264.44" stroke="#a2a2a2" stroke-width="0.7"/>
<text x="208.60" y="266.64" font-family='"Liberation Serif", serif' font-size="6.6" font-weight="normal" fill="#1a1a1a" textLength="9.00" lengthAdjust="spacingAndGlyphs" stroke="#1a1a1a" stroke-width="0.2">0.4</text>
<line x1="217.70" y1="244.76" x2="219.50" y2="244.76" stroke="#a2a2a2" stroke-width="0.7"/>
<text x="208.60" y="246.96" font-family='"Liberation Serif", serif' font-size="6.6" font-weight="normal" fill="#1a1a1a" textLength="9.00" lengthAdjust="spacingAndGlyphs" stroke="#1a1a1a" stroke-width="0.2">0.6</text>
<line x1="217.70" y1="225.08" x2="219.50" y2="225.08" stroke="#a2a2a2" stroke-width="0.7"/>
<text x="208.60" y="227.28" font-family='"Liberation Serif", serif' font-size="6.6" font-weight="normal" fill="#1a1a1a" textLength="9.00" lengthAdjust="spacingAndGlyphs" stroke="#1a1a1a" stroke-width="0.2">0.8</text>
<line x1="217.70" y1="205.40" x2="219.50" y2="205.40" stroke="#a2a2a2" stroke-width="0.7"/>
<text x="209.20" y="207.60" font-family='"Liberation Serif", serif' font-size="6.6" font-weight="normal" fill="#1a1a1a" textLength="8.40" lengthAdjust="spacingAndGlyphs" stroke="#1a1a1a" stroke-width="0.2">1.0</text>
<line x1="219.50" y1="303.80" x2="319.40" y2="303.80" stroke="#a2a2a2" stroke-width="0.85"/>
<rect x="224.20" y="215.25" width="10.80" height="88.55" fill="#7b7b7b" stroke="#505050" stroke-width="0.6"/>
<line x1="229.60" y1="215.25" x2="229.60" y2="212.40" stroke="#8a8a8a" stroke-width="0.8"/>
<line x1="227.30" y1="212.40" x2="231.90" y2="212.40" stroke="#777" stroke-width="0.8"/>
<rect x="244.10" y="218.10" width="10.80" height="85.70" fill="#7b7b7b" stroke="#505050" stroke-width="0.6"/>
<line x1="249.50" y1="218.10" x2="249.50" y2="213.40" stroke="#8a8a8a" stroke-width="0.8"/>
<line x1="247.20" y1="213.40" x2="251.80" y2="213.40" stroke="#777" stroke-width="0.8"/>
<rect x="264.00" y="218.10" width="10.60" height="85.70" fill="#7b7b7b" stroke="#505050" stroke-width="0.6"/>
<line x1="269.30" y1="218.10" x2="269.30" y2="212.50" stroke="#8a8a8a" stroke-width="0.8"/>
<line x1="267.00" y1="212.50" x2="271.60" y2="212.50" stroke="#777" stroke-width="0.8"/>
<rect x="284.20" y="258.00" width="10.50" height="45.80" fill="#7b7b7b" stroke="#505050" stroke-width="0.6"/>
<line x1="289.45" y1="258.00" x2="289.45" y2="255.50" stroke="#8a8a8a" stroke-width="0.8"/>
<line x1="287.15" y1="255.50" x2="291.75" y2="255.50" stroke="#777" stroke-width="0.8"/>
<rect x="304.00" y="298.75" width="10.60" height="5.05" fill="#7b7b7b" stroke="#505050" stroke-width="0.6"/>
<line x1="309.30" y1="298.75" x2="309.30" y2="294.40" stroke="#8a8a8a" stroke-width="0.8"/>
<line x1="307.00" y1="294.40" x2="311.60" y2="294.40" stroke="#777" stroke-width="0.8"/>
<text x="225.00" y="311.90" font-family='"Liberation Serif", serif' font-size="7.4" font-weight="normal" fill="#1a1a1a" textLength="7.70" lengthAdjust="spacingAndGlyphs" stroke="#1a1a1a" stroke-width="0.22">0,0</text>
<text x="243.50" y="311.90" font-family='"Liberation Serif", serif' font-size="7.4" font-weight="normal" fill="#1a1a1a" textLength="10.00" lengthAdjust="spacingAndGlyphs" stroke="#1a1a1a" stroke-width="0.22">0,01</text>
<text x="265.00" y="311.90" font-family='"Liberation Serif", serif' font-size="7.4" font-weight="normal" fill="#1a1a1a" textLength="6.20" lengthAdjust="spacingAndGlyphs" stroke="#1a1a1a" stroke-width="0.22">0,1</text>
<text x="285.60" y="311.90" font-family='"Liberation Serif", serif' font-size="7.4" font-weight="normal" fill="#1a1a1a" textLength="8.15" lengthAdjust="spacingAndGlyphs" stroke="#1a1a1a" stroke-width="0.22">1,0</text>
<text x="303.75" y="311.90" font-family='"Liberation Serif", serif' font-size="7.4" font-weight="normal" fill="#1a1a1a" textLength="11.25" lengthAdjust="spacingAndGlyphs" stroke="#1a1a1a" stroke-width="0.22">10,0</text>
<text x="251.50" y="192.30" font-family='"Liberation Serif", serif' font-size="9" font-weight="bold" fill="#1a1a1a" textLength="35.80" lengthAdjust="spacingAndGlyphs" stroke="#1a1a1a" stroke-width="0.25">Namalwa</text>
<text x="186.90" y="207.90" font-family='"Liberation Sans", sans-serif' font-size="12.2" font-weight="bold" fill="#000" textLength="6.40" lengthAdjust="spacingAndGlyphs" stroke="#000" stroke-width="0.25">F</text>
<text transform="translate(201.20,305.20) rotate(-90)" x="0" y="0" font-family='"Liberation Serif", serif' font-size="7.0" font-weight="bold" fill="#1a1a1a" textLength="105.30" lengthAdjust="spacingAndGlyphs" stroke="#1a1a1a" stroke-width="0.2">JC1 ratio (red/green fluorescence)</text>
<text x="248.80" y="323.80" font-family='"Liberation Serif", serif' font-size="7.2" font-weight="bold" fill="#1a1a1a" textLength="41.20" lengthAdjust="spacingAndGlyphs" stroke="#1a1a1a" stroke-width="0.3">APO866 (nM)</text>
<line x1="369.00" y1="207.50" x2="369.00" y2="306.30" stroke="#a2a2a2" stroke-width="0.85"/>
<line x1="367.20" y1="306.30" x2="369.00" y2="306.30" stroke="#a2a2a2" stroke-width="0.7"/>
<text x="357.90" y="308.50" font-family='"Liberation Serif", serif' font-size="6.6" font-weight="normal" fill="#1a1a1a" textLength="9.00" lengthAdjust="spacingAndGlyphs" stroke="#1a1a1a" stroke-width="0.2">0.0</text>
<line x1="367.20" y1="286.74" x2="369.00" y2="286.74" stroke="#a2a2a2" stroke-width="0.7"/>
<text x="357.90" y="288.94" font-family='"Liberation Serif", serif' font-size="6.6" font-weight="normal" fill="#1a1a1a" textLength="9.00" lengthAdjust="spacingAndGlyphs" stroke="#1a1a1a" stroke-width="0.2">0.2</text>
<line x1="367.20" y1="267.18" x2="369.00" y2="267.18" stroke="#a2a2a2" stroke-width="0.7"/>
<text x="357.90" y="269.38" font-family='"Liberation Serif", serif' font-size="6.6" font-weight="normal" fill="#1a1a1a" textLength="9.00" lengthAdjust="spacingAndGlyphs" stroke="#1a1a1a" stroke-width="0.2">0.4</text>
<line x1="367.20" y1="247.62" x2="369.00" y2="247.62" stroke="#a2a2a2" stroke-width="0.7"/>
<text x="357.90" y="249.82" font-family='"Liberation Serif", serif' font-size="6.6" font-weight="normal" fill="#1a1a1a" textLength="9.00" lengthAdjust="spacingAndGlyphs" stroke="#1a1a1a" stroke-width="0.2">0.6</text>
<line x1="367.20" y1="228.06" x2="369.00" y2="228.06" stroke="#a2a2a2" stroke-width="0.7"/>
<text x="357.90" y="230.26" font-family='"Liberation Serif", serif' font-size="6.6" font-weight="normal" fill="#1a1a1a" textLength="9.00" lengthAdjust="spacingAndGlyphs" stroke="#1a1a1a" stroke-width="0.2">0.8</text>
<line x1="367.20" y1="208.50" x2="369.00" y2="208.50" stroke="#a2a2a2" stroke-width="0.7"/>
<text x="358.50" y="210.70" font-family='"Liberation Serif", serif' font-size="6.6" font-weight="normal" fill="#1a1a1a" textLength="8.40" lengthAdjust="spacingAndGlyphs" stroke="#1a1a1a" stroke-width="0.2">1.0</text>
<line x1="369.00" y1="306.30" x2="468.80" y2="306.30" stroke="#a2a2a2" stroke-width="0.85"/>
<rect x="374.00" y="215.60" width="10.00" height="90.70" fill="#7b7b7b" stroke="#505050" stroke-width="0.6"/>
<line x1="379.00" y1="215.60" x2="379.00" y2="213.10" stroke="#8a8a8a" stroke-width="0.8"/>
<line x1="376.70" y1="213.10" x2="381.30" y2="213.10" stroke="#777" stroke-width="0.8"/>
<rect x="394.00" y="221.90" width="10.00" height="84.40" fill="#7b7b7b" stroke="#505050" stroke-width="0.6"/>
<rect x="414.10" y="219.40" width="9.90" height="86.90" fill="#7b7b7b" stroke="#505050" stroke-width="0.6"/>
<line x1="419.05" y1="219.40" x2="419.05" y2="217.50" stroke="#8a8a8a" stroke-width="0.8"/>
<line x1="416.75" y1="217.50" x2="421.35" y2="217.50" stroke="#777" stroke-width="0.8"/>
<rect x="433.50" y="281.90" width="10.50" height="24.40" fill="#7b7b7b" stroke="#505050" stroke-width="0.6"/>
<line x1="438.75" y1="281.90" x2="438.75" y2="273.75" stroke="#8a8a8a" stroke-width="0.8"/>
<line x1="436.45" y1="273.75" x2="441.05" y2="273.75" stroke="#777" stroke-width="0.8"/>
<rect x="454.00" y="301.90" width="10.00" height="4.40" fill="#7b7b7b" stroke="#505050" stroke-width="0.6"/>
<line x1="459.00" y1="301.90" x2="459.00" y2="298.50" stroke="#8a8a8a" stroke-width="0.8"/>
<line x1="456.70" y1="298.50" x2="461.30" y2="298.50" stroke="#777" stroke-width="0.8"/>
<text x="374.40" y="314.90" font-family='"Liberation Serif", serif' font-size="7.4" font-weight="normal" fill="#1a1a1a" textLength="8.70" lengthAdjust="spacingAndGlyphs" stroke="#1a1a1a" stroke-width="0.22">0,0</text>
<text x="393.10" y="314.90" font-family='"Liberation Serif", serif' font-size="7.4" font-weight="normal" fill="#1a1a1a" textLength="10.65" lengthAdjust="spacingAndGlyphs" stroke="#1a1a1a" stroke-width="0.22">0,01</text>
<text x="415.00" y="314.90" font-family='"Liberation Serif", serif' font-size="7.4" font-weight="normal" fill="#1a1a1a" textLength="8.50" lengthAdjust="spacingAndGlyphs" stroke="#1a1a1a" stroke-width="0.22">0,1</text>
<text x="434.20" y="314.90" font-family='"Liberation Serif", serif' font-size="7.4" font-weight="normal" fill="#1a1a1a" textLength="8.50" lengthAdjust="spacingAndGlyphs" stroke="#1a1a1a" stroke-width="0.22">1,0</text>
<text x="453.50" y="314.90" font-family='"Liberation Serif", serif' font-size="7.4" font-weight="normal" fill="#1a1a1a" textLength="12.30" lengthAdjust="spacingAndGlyphs" stroke="#1a1a1a" stroke-width="0.22">10,0</text>
<text x="406.00" y="194.90" font-family='"Liberation Serif", serif' font-size="9" font-weight="bold" fill="#1a1a1a" textLength="25.50" lengthAdjust="spacingAndGlyphs" stroke="#1a1a1a" stroke-width="0.25">Jurkat</text>
<text x="333.50" y="207.75" font-family='"Liberation Sans", sans-serif' font-size="12.2" font-weight="bold" fill="#000" textLength="9.10" lengthAdjust="spacingAndGlyphs" stroke="#000" stroke-width="0.25">G</text>
<text transform="translate(350.40,307.30) rotate(-90)" x="0" y="0" font-family='"Liberation Serif", serif' font-size="7.0" font-weight="bold" fill="#1a1a1a" textLength="104.20" lengthAdjust="spacingAndGlyphs" stroke="#1a1a1a" stroke-width="0.2">JC1 ratio (red/green fluorescence)</text>
<text x="398.80" y="326.80" font-family='"Liberation Serif", serif' font-size="7.2" font-weight="bold" fill="#1a1a1a" textLength="41.60" lengthAdjust="spacingAndGlyphs" stroke="#1a1a1a" stroke-width="0.3">APO866 (nM)</text>
</svg>
</body></html>
